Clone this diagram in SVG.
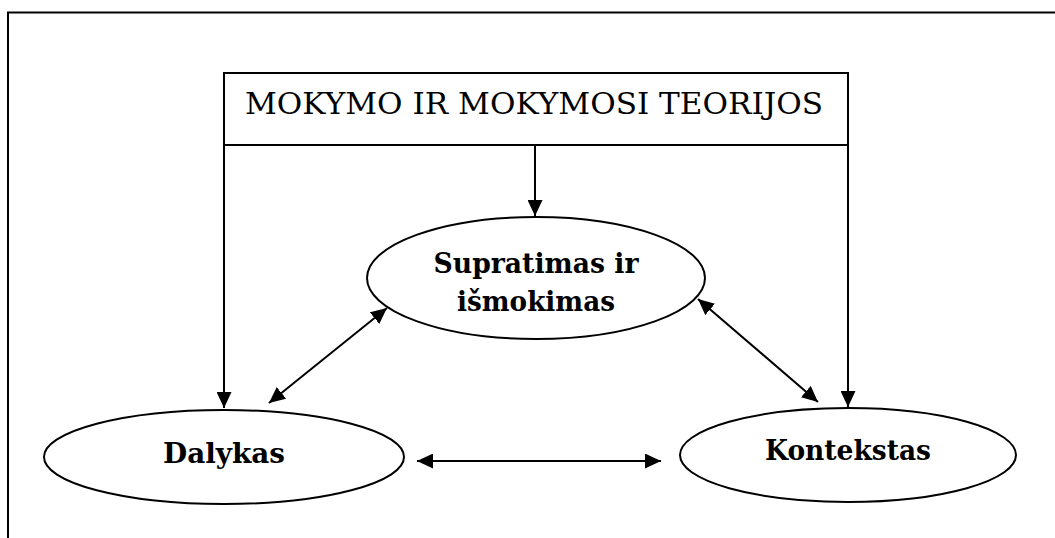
<svg xmlns="http://www.w3.org/2000/svg" width="1055" height="538" viewBox="0 0 1055 538">
<style>
.ln{stroke:#000;stroke-width:2;fill:none}
.el{stroke:#000;stroke-width:2;fill:#fff}
.t{font-family:"DejaVu Serif","Liberation Serif",serif;fill:#000;text-anchor:middle}
.b{font-weight:bold}
</style>
<defs>
<marker id="ah" viewBox="0 0 16 15" refX="16" refY="7.5" markerWidth="16" markerHeight="15" markerUnits="userSpaceOnUse" orient="auto-start-reverse">
<path d="M0,0 L16,7.5 L0,15 Z" fill="#000"/>
</marker>
</defs>
<rect width="1055" height="538" fill="#fff"/>
<path class="ln" d="M8,538 V12.5 H1055"/>
<g id="connectors">
<line class="ln" x1="224" y1="145" x2="224" y2="408" marker-end="url(#ah)"/>
<line class="ln" x1="535" y1="145" x2="535" y2="216" marker-end="url(#ah)"/>
<line class="ln" x1="848" y1="145" x2="848" y2="407" marker-end="url(#ah)"/>
<line class="ln" x1="269" y1="403" x2="387" y2="308" marker-start="url(#ah)" marker-end="url(#ah)"/>
<line class="ln" x1="698" y1="299" x2="818" y2="402" marker-start="url(#ah)" marker-end="url(#ah)"/>
<line class="ln" x1="417" y1="461" x2="661" y2="461" marker-start="url(#ah)" marker-end="url(#ah)"/>
</g>
<g id="teorijos">
<rect class="el" x="224" y="73" width="624" height="72"/>
<text class="t" x="534" y="114" font-size="30" textLength="578" lengthAdjust="spacingAndGlyphs">MOKYMO IR MOKYMOSI TEORIJOS</text>
</g>
<g id="supratimas">
<ellipse class="el" cx="536" cy="278" rx="169" ry="61"/>
<text class="t b" x="536" y="273" font-size="27" textLength="205" lengthAdjust="spacingAndGlyphs">Supratimas ir</text>
<text class="t b" x="536" y="311" font-size="27" textLength="158" lengthAdjust="spacingAndGlyphs">išmokimas</text>
</g>
<g id="dalykas">
<ellipse class="el" cx="224" cy="457" rx="180" ry="47"/>
<text class="t b" x="224" y="463" font-size="27" textLength="122" lengthAdjust="spacingAndGlyphs">Dalykas</text>
</g>
<g id="kontekstas">
<ellipse class="el" cx="848" cy="455" rx="168" ry="47"/>
<text class="t b" x="848" y="460" font-size="27" textLength="166" lengthAdjust="spacingAndGlyphs">Kontekstas</text>
</g>
</svg>
